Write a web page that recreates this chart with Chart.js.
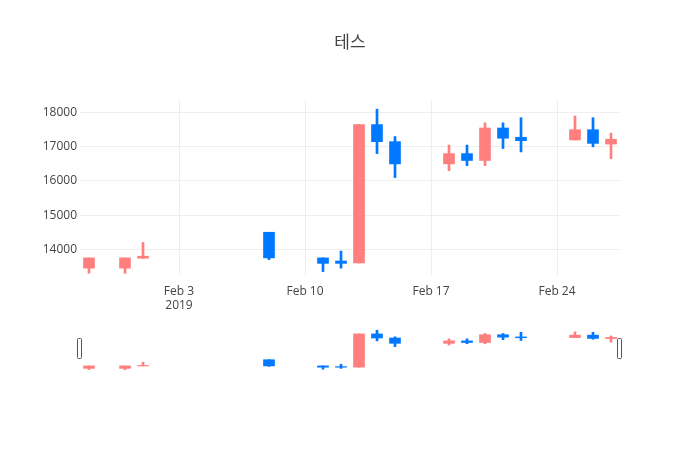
<!DOCTYPE html>
<html><head><meta charset="utf-8">
<script src="https://cdn.jsdelivr.net/npm/chart.js@4.4.1/dist/chart.umd.min.js"></script>
<style>
html,body{margin:0;padding:0;background:#fff;}
#wrap{position:relative;width:700px;height:450px;}
#main{position:absolute;left:0;top:0;width:700px;height:450px;}
#slider{position:absolute;left:0;top:320px;width:700px;height:60px;}
</style></head><body>
<div id="wrap"><canvas id="main" width="700" height="450"></canvas><canvas id="slider" width="700" height="60"></canvas></div>
<script>
const chartTitle = '테스';
const dates = ['2019-01-29','2019-01-31','2019-02-01','2019-02-08','2019-02-11','2019-02-12','2019-02-13','2019-02-14','2019-02-15','2019-02-18','2019-02-19','2019-02-20','2019-02-21','2019-02-22','2019-02-25','2019-02-26','2019-02-27'];
const openVals  = [13450,13450,13740,14500,13750,13660,13600,17650,17150,16500,16800,16600,17550,17280,17200,17500,17080];
const highVals  = [13750,13750,14200,14500,13750,13950,17650,18100,17300,17050,17050,17700,17700,17850,17900,17850,17400];
const lowVals   = [13300,13300,13740,13700,13350,13450,13600,16800,16100,16300,16450,16450,16950,16850,17200,17000,16650];
const closeVals = [13750,13750,13800,13750,13590,13590,17650,17150,16500,16800,16600,17550,17250,17180,17500,17100,17220];
const xTickDates = ['2019-02-03','2019-02-10','2019-02-17','2019-02-24'];
const xTickLabels = [['Feb 3','2019'],'Feb 10','Feb 17','Feb 24'];
const yTickValues = [14000,15000,16000,17000,18000];
const yRange = [13250, 18369];

const INC = '#FF7F7F', DEC = '#0078FF';
const FONT = "'Open Sans', 'Noto Sans CJK KR', sans-serif";
Chart.defaults.font.family = FONT;
Chart.defaults.color = '#444';

const base = Date.UTC(2019,0,0);
const dayOf = s => Math.round((Date.parse(s + 'T00:00:00Z') - base) / 86400000);
const xs = dates.map(dayOf);
const xMin = xs[0] - 0.5, xMax = xs[xs.length-1] + 0.5;
const colors = openVals.map((o,i) => closeVals[i] >= o ? INC : DEC);
const tickDays = xTickDates.map(dayOf);

function makeDatasets(){
  return [
    {type:'bar', data: xs.map((x,i)=>({x:x, y:[lowVals[i], highVals[i]]})), backgroundColor: colors, barThickness: 2, grouped:false},
    {type:'bar', data: xs.map((x,i)=>({x:x, y:[openVals[i], closeVals[i]]})), backgroundColor: colors, barThickness: 11, grouped:false}
  ];
}

new Chart(document.getElementById('main'), {
  type:'bar',
  data:{datasets: makeDatasets()},
  options:{
    responsive:false, animation:false,
    layout:{padding:{left:0,right:0,top:0,bottom:135}},
    plugins:{
      legend:{display:false}, tooltip:{enabled:false},
      title:{display:true, text:chartTitle, color:'#444', font:{size:17, weight:'normal', family:FONT}, padding:{top:33,bottom:46.6}}
    },
    scales:{
      x:{type:'linear', min:xMin, max:xMax, offset:false,
         grid:{color:'#eee', drawTicks:false, offset:false}, border:{display:false},
         ticks:{padding:9, autoSkip:false, maxRotation:0, color:'#444', font:{size:12},
                callback:(v,i)=> xTickLabels[i]},
         afterBuildTicks: s => { s.ticks = tickDays.map(v=>({value:v})); },
         afterFit: s => { s.height = 40; }},
      y:{type:'linear', position:'left', min:yRange[0], max:yRange[1],
         grid:{color:'#eee', drawTicks:false}, border:{display:false},
         ticks:{padding:3, color:'#444', font:{size:12}, callback:v=>String(v)},
         afterBuildTicks: s => { s.ticks = yTickValues.map(v=>({value:v})); },
         afterFit: s => { s.width = 80; }},
      yRight:{type:'linear', position:'right', min:yRange[0], max:yRange[1],
         grid:{display:false, drawTicks:false}, border:{display:false},
         ticks:{display:false},
         afterFit: s => { s.width = 80; }}
    }
  }
});

const handles = {
  id:'handles',
  afterDraw(chart){
    const ctx = chart.ctx, a = chart.chartArea;
    const mid = (a.top + a.bottom)/2;
    [a.left, a.right].forEach(px => {
      ctx.save();
      ctx.beginPath();
      if (ctx.roundRect) ctx.roundRect(px-2.5, mid-10.5, 4, 20, 1); else ctx.rect(px-2.5, mid-10.5, 4, 20);
      ctx.fillStyle = '#fff'; ctx.fill();
      ctx.strokeStyle = '#555'; ctx.lineWidth = 1; ctx.stroke();
      ctx.restore();
    });
  }
};

new Chart(document.getElementById('slider'), {
  type:'bar',
  data:{datasets: makeDatasets()},
  options:{
    responsive:false, animation:false,
    layout:{padding:{left:80,right:80,top:8,bottom:10}},
    plugins:{legend:{display:false}, tooltip:{enabled:false}},
    scales:{
      x:{type:'linear', display:false, min:xMin, max:xMax, offset:false},
      y:{type:'linear', display:false, min:yRange[0], max:yRange[1]}
    }
  },
  plugins:[handles]
});
</script>
</body></html>
